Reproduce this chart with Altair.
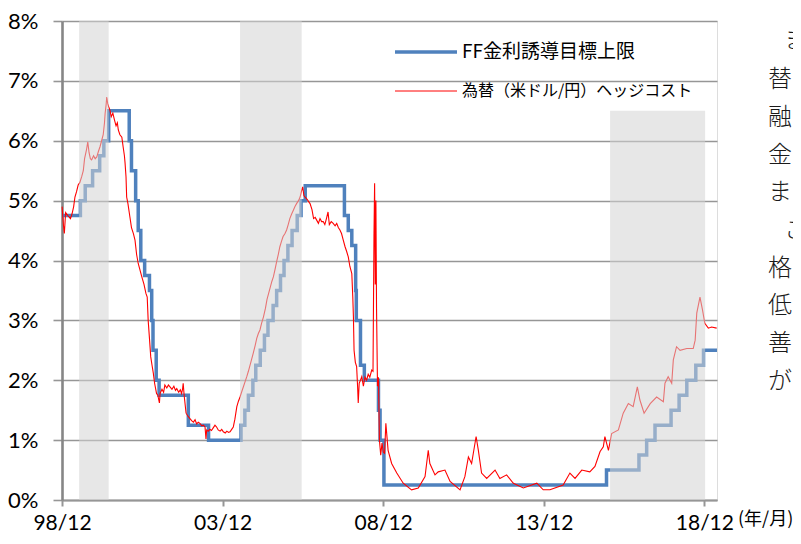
import json
import altair as alt
import pandas as pd

# ---- data ----
# FF target rate, upper bound (step changes, decimal years)
ff_t = [1998.917, 1999.49, 1999.64, 1999.87, 2000.09, 2000.22, 2000.37,
        2001.01, 2001.08, 2001.21, 2001.29, 2001.37, 2001.49, 2001.64, 2001.71,
        2001.75, 2001.85, 2001.94, 2002.85, 2003.48,
        2004.49, 2004.61, 2004.72, 2004.86, 2004.95, 2005.09, 2005.22, 2005.33,
        2005.49, 2005.60, 2005.72, 2005.83, 2005.95, 2006.08, 2006.24, 2006.36,
        2006.49, 2007.71, 2007.83, 2007.94, 2008.06, 2008.08, 2008.21, 2008.33,
        2008.77, 2008.82, 2008.94,
        2015.87, 2016.88, 2017.12, 2017.38, 2017.88, 2018.13, 2018.37, 2018.65,
        2018.89, 2019.31]
ff_v = [4.75, 5.00, 5.25, 5.50, 5.75, 6.00, 6.50,
        6.00, 5.50, 5.00, 4.50, 4.00, 3.75, 3.50, 3.00,
        2.50, 2.00, 1.75, 1.25, 1.00,
        1.25, 1.50, 1.75, 2.00, 2.25, 2.50, 2.75, 3.00,
        3.25, 3.50, 3.75, 4.00, 4.25, 4.50, 4.75, 5.00,
        5.25, 4.75, 4.50, 4.25, 3.50, 3.00, 2.25, 2.00,
        1.50, 1.00, 0.25,
        0.50, 0.75, 1.00, 1.25, 1.50, 1.75, 2.00, 2.25,
        2.50, 2.50]

# USD/JPY hedge cost
hedge_t = [1998.92, 1998.96, 1998.99, 1999.03, 1999.10, 1999.18, 1999.23, 1999.28,
           1999.32, 1999.37, 1999.42, 1999.47, 1999.53, 1999.58, 1999.62, 1999.68,
           1999.72, 1999.76, 1999.80, 1999.84, 1999.90, 1999.95, 2000.00, 2000.05,
           2000.10, 2000.15, 2000.20, 2000.24, 2000.26, 2000.29, 2000.31, 2000.34,
           2000.38, 2000.41, 2000.45, 2000.50, 2000.55, 2000.60, 2000.64, 2000.67,
           2000.72, 2000.78, 2000.82, 2000.86, 2000.88, 2000.91, 2000.93, 2000.97,
           2001.03, 2001.08, 2001.14, 2001.19, 2001.24, 2001.29, 2001.34, 2001.40,
           2001.47, 2001.53, 2001.57, 2001.60, 2001.64, 2001.68, 2001.72, 2001.76,
           2001.80, 2001.86, 2001.90, 2001.95, 2001.97, 2002.03, 2002.08, 2002.12,
           2002.18, 2002.23, 2002.28, 2002.34, 2002.40, 2002.45, 2002.49, 2002.55,
           2002.60, 2002.64, 2002.67, 2002.69, 2002.72, 2002.76, 2002.78, 2002.84,
           2002.90, 2002.96, 2003.01, 2003.06, 2003.11, 2003.16, 2003.21, 2003.27,
           2003.32, 2003.37, 2003.40, 2003.42, 2003.47, 2003.52, 2003.57, 2003.62,
           2003.68, 2003.73, 2003.78, 2003.84, 2003.89, 2003.94, 2004.00, 2004.05,
           2004.10, 2004.15, 2004.20, 2004.25, 2004.30, 2004.36, 2004.41, 2004.46,
           2004.52, 2004.57, 2004.62, 2004.67, 2004.72, 2004.77, 2004.82, 2004.87,
           2004.93, 2004.98, 2005.03, 2005.08, 2005.13, 2005.19, 2005.25, 2005.30,
           2005.35, 2005.40, 2005.45, 2005.50, 2005.55, 2005.60, 2005.65, 2005.70,
           2005.75, 2005.80, 2005.86, 2005.91, 2005.96, 2006.01, 2006.07, 2006.12,
           2006.17, 2006.22, 2006.28, 2006.33, 2006.37, 2006.41, 2006.45, 2006.50,
           2006.55, 2006.60, 2006.64, 2006.70, 2006.75, 2006.80, 2006.85, 2006.90,
           2006.95, 2007.00, 2007.05, 2007.10, 2007.15, 2007.20, 2007.24, 2007.30,
           2007.36, 2007.42, 2007.47, 2007.52, 2007.57, 2007.62, 2007.67, 2007.73,
           2007.78, 2007.83, 2007.88, 2007.94, 2007.97, 2007.99, 2008.01, 2008.05,
           2008.09, 2008.12, 2008.14, 2008.17, 2008.21, 2008.25, 2008.30, 2008.35,
           2008.40, 2008.45, 2008.50, 2008.56, 2008.60, 2008.63, 2008.65, 2008.67,
           2008.69, 2008.71, 2008.74, 2008.77, 2008.80, 2008.84, 2008.88, 2008.92,
           2008.96, 2009.00, 2009.07, 2009.18, 2009.34, 2009.54, 2009.80, 2010.01,
           2010.22, 2010.32, 2010.37, 2010.53, 2010.63, 2010.84, 2011.00, 2011.31,
           2011.46, 2011.57, 2011.67, 2011.81, 2011.88, 2011.98, 2012.14, 2012.40,
           2012.55, 2012.76, 2012.97, 2013.28, 2013.70, 2013.90, 2014.11, 2014.52,
           2014.73, 2014.89, 2015.10, 2015.35, 2015.51, 2015.67, 2015.77, 2015.82,
           2015.93, 2016.03, 2016.24, 2016.39, 2016.55, 2016.70, 2016.83, 2016.91,
           2017.04, 2017.23, 2017.43, 2017.64, 2017.69, 2017.79, 2017.90, 2017.95,
           2018.05, 2018.16, 2018.37, 2018.57, 2018.63, 2018.68, 2018.78, 2018.86,
           2018.93, 2019.04, 2019.14, 2019.30]
hedge_v = [4.90, 4.60, 4.45, 4.80, 4.75, 4.70, 4.78, 4.90,
           5.06, 5.15, 5.26, 5.30, 5.40, 5.50, 5.70, 5.85,
           5.98, 5.80, 5.70, 5.68, 5.75, 5.70, 5.73, 5.82,
           5.90, 6.00, 6.10, 6.30, 6.46, 6.60, 6.73, 6.62,
           6.55, 6.51, 6.40, 6.46, 6.35, 6.25, 6.30, 6.18,
           6.10, 6.06, 5.90, 5.75, 5.63, 5.40, 5.06, 4.95,
           4.73, 4.55, 4.45, 4.34, 4.10, 3.95, 3.85, 3.73,
           3.60, 3.45, 3.39, 3.00, 2.70, 2.39, 2.25, 2.12,
           1.95, 1.78, 1.75, 1.62, 1.78, 1.85, 1.80, 1.92,
           1.87, 1.92, 1.89, 1.85, 1.90, 1.83, 1.86, 1.80,
           1.84, 1.78, 1.85, 1.95, 1.75, 1.55, 1.45, 1.40,
           1.36, 1.32, 1.30, 1.34, 1.27, 1.30, 1.28, 1.24,
           1.25, 1.22, 1.02, 1.17, 1.15, 1.18, 1.16, 1.20,
           1.25, 1.22, 1.17, 1.15, 1.18, 1.14, 1.12, 1.15,
           1.13, 1.14, 1.18, 1.22, 1.35, 1.56, 1.65, 1.72,
           1.82, 1.90, 1.98, 2.06, 2.15, 2.25, 2.35, 2.45,
           2.58, 2.70, 2.78, 2.84, 2.95, 3.06, 3.20, 3.35,
           3.45, 3.55, 3.65, 3.73, 3.85, 3.98, 4.10, 4.23,
           4.32, 4.40, 4.45, 4.51, 4.60, 4.70, 4.78, 4.84,
           4.90, 4.95, 5.00, 5.06, 5.15, 5.23, 5.08, 5.05,
           5.02, 4.98, 4.95, 4.85, 4.70, 4.72, 4.67, 4.62,
           4.70, 4.65, 4.65, 4.60, 4.70, 4.81, 4.60, 4.65,
           4.62, 4.58, 4.62, 4.55, 4.51, 4.45, 4.35, 4.23,
           4.15, 4.06, 3.90, 3.78, 3.40, 3.06, 2.50, 2.30,
           2.23, 1.90, 1.62, 1.95, 2.00, 2.06, 1.90, 2.05,
           2.00, 2.10, 2.05, 2.17, 2.15, 4.40, 5.29, 3.60,
           5.00, 3.20, 1.90, 2.05, 1.00, 0.75, 0.95, 0.80,
           0.78, 1.28, 0.83, 0.61, 0.45, 0.28, 0.17, 0.20,
           0.39, 0.83, 0.61, 0.42, 0.47, 0.50, 0.31, 0.17,
           0.39, 0.72, 0.61, 1.06, 0.83, 0.45, 0.36, 0.50,
           0.36, 0.42, 0.28, 0.20, 0.28, 0.17, 0.17, 0.25,
           0.45, 0.36, 0.50, 0.47, 0.56, 0.81, 0.89, 1.06,
           0.83, 1.11, 1.17, 1.45, 1.61, 1.56, 1.89, 1.67,
           1.45, 1.61, 1.72, 1.64, 1.95, 2.06, 1.95, 2.34,
           2.56, 2.50, 2.53, 2.53, 2.67, 3.12, 3.39, 3.17,
           2.95, 2.87, 2.89, 2.87]

# rate-hike periods (shaded)
band_start = [1999.45, 2004.46, 2015.98]
band_end = [2000.37, 2006.38, 2018.94]
band_top = [8.0, 8.0, 6.5]

x_ticks = [1998.917, 2003.917, 2008.917, 2013.917, 2018.917]
x_labels = ["98/12", "03/12", "08/12", "13/12", "18/12"]
y_ticks = [0, 1, 2, 3, 4, 5, 6, 7, 8]

series_names = ["FF金利誘導目標上限", "為替（米ドル/円）ヘッジコスト"]
unit_label = "(年/月)"
side_chars = ["ま", "替", "融", "金", "ま", "こ", "格", "低", "善", "が"]

BLUE = "#4F81BD"
RED = "#FF0000"
GRID = "#969696"
FONT = "Lato"
JFONT = "Noto Sans CJK JP"

W, H = 655, 479

ff_df = pd.DataFrame({"t": ff_t, "v": ff_v})
hedge_df = pd.DataFrame({"t": hedge_t, "v": hedge_v})
band_df = pd.DataFrame({"s": band_start, "e": band_end, "top": band_top})

label_expr = (json.dumps(x_labels) + "[indexof(" + json.dumps(x_ticks) + ", datum.value)]")

xscale = alt.Scale(domain=[1998.917, 2019.31], nice=False, zero=False)
yscale = alt.Scale(domain=[0, 8], nice=False)

x_axis = alt.Axis(values=x_ticks, labelExpr=label_expr, title=None, grid=False,
                  domainColor=GRID, domainWidth=2, tickColor=GRID, tickWidth=2,
                  tickSize=6, labelPadding=6, labelFont=FONT, labelFontSize=21,
                  labelColor="#000000", labelFlush=False)
y_axis = alt.Axis(values=y_ticks, labelExpr="datum.value + '%'", title=None,
                  grid=True, gridColor=GRID, gridWidth=1.6,
                  domainColor="#868686", domainWidth=2.6, tickColor=GRID, tickWidth=1.6,
                  tickSize=9, labelPadding=15, labelFont=FONT, labelFontSize=22,
                  labelColor="#000000")

blue = alt.Chart(ff_df).mark_line(interpolate="step-after", color=BLUE,
                                  strokeWidth=3.5, strokeJoin="miter").encode(
    x=alt.X("t:Q", scale=xscale, axis=x_axis),
    y=alt.Y("v:Q", scale=yscale, axis=y_axis),
)
red = alt.Chart(hedge_df).mark_line(color=RED, strokeWidth=1.1).encode(
    x=alt.X("t:Q", scale=xscale),
    y=alt.Y("v:Q", scale=yscale),
)
bands = alt.Chart(band_df).mark_rect(color="#d4d4d4", opacity=0.55).encode(
    x=alt.X("s:Q", scale=xscale),
    x2="e:Q",
    y=alt.Y("top:Q", scale=yscale),
    y2=alt.datum(0),
)

layers = [blue, red, bands]

# legend (manual)
leg_y = [31, 70]
leg_col = [BLUE, RED]
leg_w = [3.5, 1]
leg_fs = [19, 16]
for name, yy, col, sw, fs in zip(series_names, leg_y, leg_col, leg_w, leg_fs):
    d = pd.DataFrame({"label": [name]})
    layers.append(alt.Chart(d).mark_rule(color=col, strokeWidth=sw).encode(
        x=alt.value(333), x2=alt.value(395), y=alt.value(yy)))
    layers.append(alt.Chart(d).mark_text(align="left", baseline="middle",
                                         font=JFONT, fontSize=fs, color="#000000").encode(
        x=alt.value(400), y=alt.value(yy), text="label:N"))

# unit label
layers.append(alt.Chart(pd.DataFrame({"label": [unit_label]})).mark_text(
    align="left", baseline="middle", font=JFONT, fontSize=18, color="#000000").encode(
    x=alt.value(676), y=alt.value(499), text="label:N"))

# body text on the right (first column of a cropped page)
row_y = [20, 59, 97, 135, 172, 210, 248, 285, 323, 361]
for i, (ch, yy) in enumerate(zip(side_chars, row_y)):
    xx = 722 if i in (0, 5) else 706
    layers.append(alt.Chart(pd.DataFrame({"label": [ch]})).mark_text(
        align="left", baseline="middle", font=JFONT, fontSize=24, fontWeight=300,
        color="#1a1a1a").encode(x=alt.value(xx), y=alt.value(yy), text="label:N"))

chart = alt.layer(*layers).properties(
    width=W, height=H,
    autosize=alt.AutoSizeParams(type="none"),
    padding={"left": 54, "top": 13, "right": 76, "bottom": 34},
).configure_view(stroke=None).configure(background="#ffffff")

chart.save("out.html", embed_options={"renderer": "svg", "actions": False})
